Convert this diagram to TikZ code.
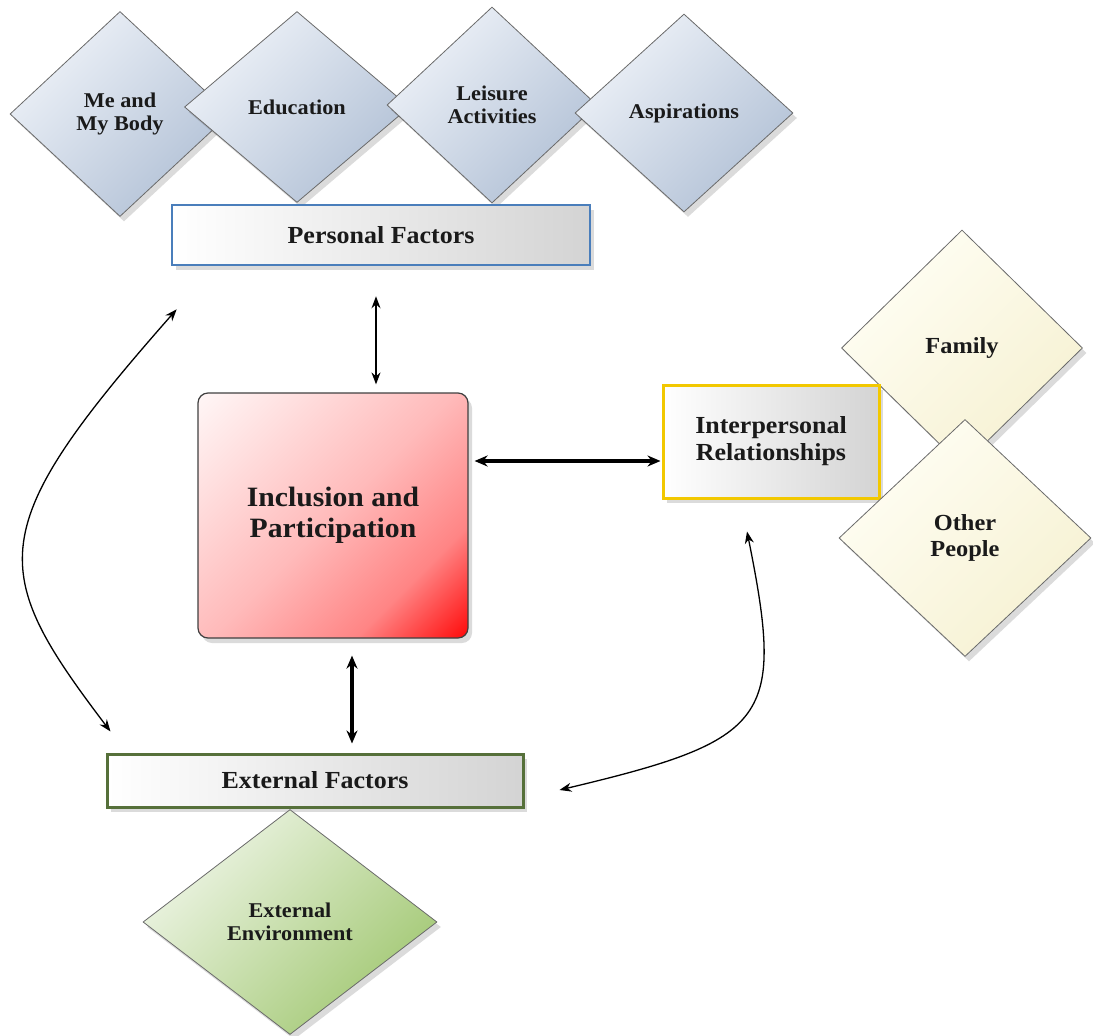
\documentclass[tikz,border=0pt]{standalone}
\usepackage{fontspec}
\setmainfont{Liberation Serif}[FakeStretch=1.06]
\usetikzlibrary{shapes.geometric,arrows.meta,shadows}

\definecolor{blueA}{HTML}{EEF2F8}
\definecolor{blueB}{HTML}{B2C1D6}
\definecolor{yelA}{HTML}{FFFEF4}
\definecolor{yelB}{HTML}{F6F1D2}
\definecolor{greenA}{HTML}{EEF5E6}
\definecolor{greenB}{HTML}{A2C873}
\definecolor{pfline}{HTML}{4A7EBB}
\definecolor{irline}{HTML}{F2C800}
\definecolor{efline}{HTML}{56703A}
\definecolor{ink}{HTML}{1A1A1A}
\definecolor{edge}{HTML}{6A6A6A}

% pale pink that deepens to red only towards one corner
\pgfdeclareverticalshading{coreshade}{100bp}{%
  color(0bp)=(red!100!white);
  color(15bp)=(red!95!white);
  color(30bp)=(red!48!white);
  color(50bp)=(red!27!white);
  color(72bp)=(red!12!white);
  color(86bp)=(red!3!white);
  color(100bp)=(red!3!white)}

\begin{document}
\begin{tikzpicture}[x=1pt,y=-1pt,
  txt/.style={font=\bfseries, text=ink, align=center, inner sep=0pt},
  softshadow/.style={drop shadow={shadow xshift=4pt,shadow yshift=-5pt,fill=black,opacity=0.14}},
  gem/.style={txt, shape=diamond, draw=edge, line width=0.8pt, softshadow},
  bluegem/.style={gem, left color=blueA, right color=blueB, shading angle=45,
    font=\bfseries\fontsize{21}{22.5}\selectfont},
  yellowgem/.style={gem, left color=yelA, right color=yelB, shading angle=45,
    font=\bfseries\fontsize{23}{25.5}\selectfont},
  greengem/.style={gem, left color=greenA, right color=greenB, shading angle=45,
    font=\bfseries\fontsize{21}{23}\selectfont},
  factorbox/.style={txt, rectangle, line width=2.6pt, softshadow,
    left color=white, right color=black!17,
    font=\bfseries\fontsize{24.5}{27}\selectfont},
  corebox/.style={txt, rectangle, rounded corners=10pt, draw=black!75,
    line width=1.2pt, softshadow, shading=coreshade, shading angle=45,
    font=\bfseries\fontsize{28}{31}\selectfont},
  thinlink/.style={draw=black, line width=1.3pt,
    {Stealth[length=12pt,width=9pt]}-{Stealth[length=12pt,width=9pt]}},
  thicklink/.style={draw=black, line width=3.2pt,
    {Stealth[length=13pt,width=11pt]}-{Stealth[length=13pt,width=11pt]}}
]
\useasboundingbox (0,0) rectangle (1093,1036);

% personal factor diamonds, drawn left to right so each overlaps the previous
\node[bluegem, minimum width=220pt, minimum height=205pt] (body) at (120,114) {Me and\\My Body};
\node[bluegem, minimum width=225pt, minimum height=191pt] (edu) at (297,107) {Education};
\node[bluegem, minimum width=210pt, minimum height=196pt] (leis) at (492,105) {Leisure\\Activities};
\node[bluegem, minimum width=218pt, minimum height=198pt] (asp) at (684,113) {Aspirations};

% personal factors box
\node[factorbox, draw=pfline, minimum width=418pt, minimum height=60pt] (pf) at (381,235) {Personal Factors};

% interpersonal side
\node[yellowgem, minimum width=241pt, minimum height=236pt] (fam) at (962,348) {Family};
\node[factorbox, draw=irline, line width=3pt, minimum width=216pt, minimum height=113pt] (ir) at (771,441.5) {Interpersonal\\Relationships};
\node[yellowgem, minimum width=252pt, minimum height=237pt] (oth) at (965,538) {Other\\People};

% core
\node[corebox, minimum width=270pt, minimum height=245pt] (ip) at (333,515.5) {Inclusion and\\Participation};

% external side
\node[factorbox, draw=efline, line width=3pt, minimum width=416pt, minimum height=53pt] (ef) at (315,780.5) {External Factors};
\node[greengem, minimum width=294pt, minimum height=225pt] (env) at (290,922) {External\\Environment};

% links
\draw[thinlink] ([xshift=-5pt,yshift=-30pt]pf.south) -- ([xshift=43pt,yshift=8pt]ip.north);
\draw[thicklink] ([xshift=6pt,yshift=54.5pt]ip.east) -- ([xshift=-1pt,yshift=-19.5pt]ir.west);
\draw[thicklink] ([xshift=19pt,yshift=-17pt]ip.south) -- ([xshift=37pt,yshift=9pt]ef.north);
\draw[thinlink] ([xshift=6pt,yshift=-43pt]pf.south west)
  .. controls (-18,530) and (-12,570) .. ([xshift=5pt,yshift=21pt]ef.north west);
\draw[thinlink] ([xshift=-24pt,yshift=-32pt]ir.south)
  .. controls (785,720) and (770,740) .. ([xshift=35pt,yshift=-9.5pt]ef.east);
\end{tikzpicture}
\end{document}
